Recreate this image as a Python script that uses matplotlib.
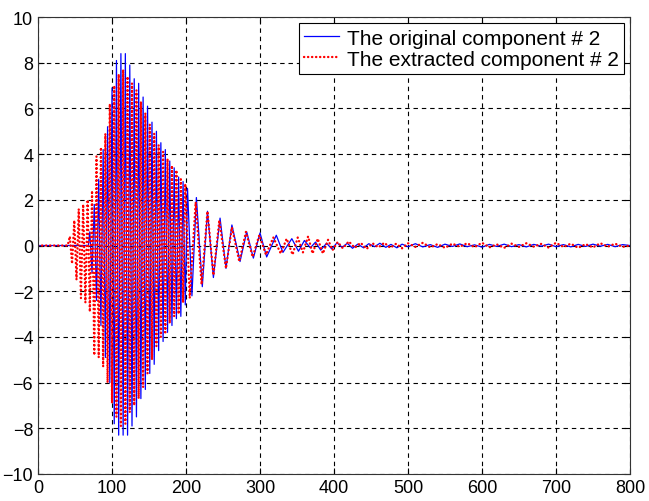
import matplotlib
matplotlib.use("Agg")
import matplotlib.pyplot as plt

plt.rcParams['font.family'] = ['Liberation Sans', 'DejaVu Sans']

# original component #2 (blue)
blue_x = [0, 68,
          70, 73, 76, 79, 82, 85, 88, 91, 94, 97, 100, 103, 106, 109, 112, 115,
          118, 121, 124, 127, 130, 133, 136, 139, 142, 145, 148, 151, 154, 157,
          160, 163, 166, 169, 172, 175, 178, 181, 184, 187, 190, 193, 196, 199,
          202, 208, 214, 222, 229, 237, 246, 254, 262, 273, 282, 291, 300, 309,
          322, 331, 343, 352, 360, 368, 375, 382, 390, 397, 404, 411, 418, 425,
          432, 440, 447, 455, 462, 470, 477, 485, 492, 500, 510, 520, 530, 540,
          550, 560, 570, 580, 590, 600, 610, 620, 630, 640, 650, 660, 670, 680,
          690, 700, 710, 720, 730, 740, 750, 760, 770, 780, 790, 800]
blue_y = [0, 0,
          0.6, -1.2, 1.8, -2.4, 2.9, -3.5, 4.2, -4.9, 5.2, -6.0, 6.9, -7.8, 8.1, -8.3, 8.4, -8.3,
          8.4, -8.3, 7.9, -7.9, 7.3, -7.5, 7.1, -6.7, 6.5, -6.3, 6.1, -5.6, 5.4, -5.2,
          5.0, -4.6, 4.5, -4.2, 4.2, -3.8, 3.7, -3.5, 3.4, -3.2, 3.0, -3.1, 2.8, -2.6,
          2.5, -2.2, 2.1, -1.8, 1.5, -1.4, 1.2, -1.0, 0.9, -0.7, 0.6, -0.55, 0.55, -0.5,
          0.45, -0.3, 0.3, -0.25, 0.22, -0.1, 0.15, -0.2, 0.1, -0.15, 0.12, -0.08, 0.1, -0.12,
          0.06, -0.1, 0.08, -0.05, 0.1, -0.08, 0.05, -0.1, 0.06, -0.05, 0.08, -0.06, 0.04, -0.08,
          0.06, -0.04, 0.07, -0.05, 0.03, -0.07, 0.05, -0.04, 0.06, -0.05, 0.04, -0.06, 0.05, -0.03,
          0.06, -0.05, 0.04, -0.06, 0.05, -0.04, 0.06, -0.03, 0.05, -0.05, 0.04, 0.0]

# extracted component #2 (red dotted)
red_x = [0, 40,
         43, 46, 49, 52, 55, 58, 61, 64, 67, 70, 73, 76, 79, 82, 85, 88, 91, 94,
         97, 100, 103, 106, 109, 112, 115, 118, 121, 124, 127, 130, 133, 136, 139,
         142, 145, 148, 151, 154, 157, 160, 163, 166, 169, 172, 175, 178, 181, 184,
         187, 190, 193, 196, 199,
         205, 213, 221, 229, 237, 245, 254, 262, 272, 281, 290, 299, 308, 318, 328,
         336, 344, 351, 358, 365, 371, 378, 385, 392, 398, 405, 412, 420, 428, 436,
         444, 452, 460, 468, 476, 484, 492, 500, 510, 520, 530, 540, 550, 560, 570,
         580, 590, 600, 610, 620, 630, 640, 650, 660, 670, 680, 690, 700, 710, 720,
         730, 740, 750, 760, 770, 780, 790, 800]
red_y = [0, 0,
         0.4, -0.8, 1.1, -1.5, 1.6, -2.3, 1.8, -2.5, 2.0, -2.9, 2.4, -4.8, 3.9, -4.9, 4.3, -5.3, 4.9, -6.0,
         6.2, -6.9, 7.0, -7.5, 7.5, -7.9, 7.7, -7.8, 7.4, -7.3, 7.1, -7.0, 6.8, -6.7, 6.3,
         -6.2, 5.8, -5.6, 5.3, -5.0, 4.9, -4.4, 4.4, -4.0, 4.1, -3.8, 3.8, -3.4, 3.5, -3.1,
         3.3, -3.0, 2.9, -2.5, 2.7,
         -2.3, 1.9, -1.7, 1.5, -1.3, 1.1, -1.0, 0.8, -0.7, 0.6, -0.5, 0.45, -0.4, 0.35, -0.35,
         0.3, -0.4, 0.35, -0.3, 0.4, -0.35, 0.3, -0.35, 0.25, -0.2, 0.15, -0.12, 0.18, -0.1, 0.12,
         -0.15, 0.1, -0.08, 0.12, -0.1, 0.08, -0.12, 0.1, -0.06, 0.12, -0.08, 0.06, -0.1, 0.08, -0.05,
         0.1, -0.07, 0.12, -0.08, 0.05, -0.1, 0.08, -0.06, 0.1, -0.05, 0.07, -0.09, 0.12, -0.06, 0.08,
         -0.1, 0.06, -0.08, 0.1, -0.05, 0.08, -0.06, 0.0]

fig = plt.figure(figsize=(6.49, 5.02), dpi=100)
ax = fig.add_axes([0.0586, 0.0538, 0.9121, 0.9102])

ax.plot(blue_x, blue_y, color='#0000ff', lw=0.9, label='The original component # 2')
# round-capped near-zero dashes give matlab-like dots
ax.plot(red_x, red_y, color='#ff0000', lw=1.7, linestyle=(0, (0.1, 1.6)),
        dash_capstyle='round', label='The extracted component # 2')

ax.set_xlim(0, 800)
ax.set_ylim(-10, 10)
ax.set_xticks(range(0, 801, 100))
ax.set_yticks(range(-10, 11, 2))
ax.grid(True, color='black', linestyle=(0, (4, 3.5)), linewidth=0.8)
ax.tick_params(direction='in', top=True, right=True, labelsize=13, length=4)
for s in ax.spines.values():
    s.set_color('#333333')

leg = ax.legend(loc='upper right', fontsize=15, fancybox=False, framealpha=1,
                edgecolor='black', borderaxespad=0.3, handlelength=1.7,
                handletextpad=0.35, borderpad=0.25, labelspacing=0.1)
leg.get_frame().set_linewidth(0.8)

plt.savefig("out.png", dpi=100)
